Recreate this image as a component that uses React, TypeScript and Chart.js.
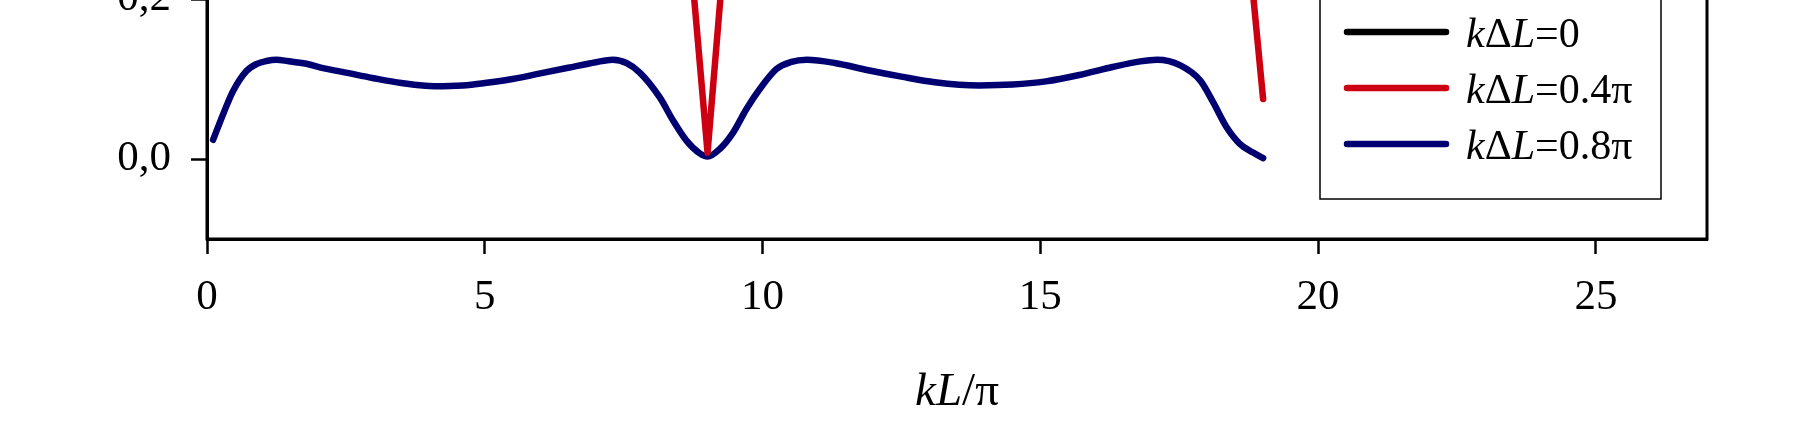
import React, { useEffect, useRef } from 'react';
import { Chart, registerables } from 'chart.js';

Chart.register(...registerables);

// ---- data ----
const blackX = [0.1, 0.5, 1, 2, 3, 4, 5, 6, 7, 8, 9, 10, 11, 12, 13, 14, 15, 16, 17, 18, 19];
const blackY = [0.62, 0.74, 0.82, 0.86, 0.84, 0.82, 0.83, 0.86, 0.85, 0.78, 0.66, 0.78, 0.85, 0.86, 0.83, 0.82, 0.84, 0.86, 0.84, 0.76, 0.64];

const redX = [0.1, 0.5, 1, 2, 3, 4, 5, 6, 7, 7.5, 8, 8.3, 8.5, 8.77, 9.01, 9.24, 9.45, 9.7, 10, 11, 12, 13, 14, 15, 16, 17, 17.5, 18, 18.3, 18.55, 18.84, 19.01];
const redY = [0.34, 0.42, 0.48, 0.52, 0.5, 0.48, 0.49, 0.52, 0.5, 0.46, 0.4, 0.34, 0.41, 0.2, 0.008, 0.2, 0.37, 0.43, 0.46, 0.52, 0.5, 0.48, 0.48, 0.5, 0.52, 0.5, 0.47, 0.44, 0.42, 0.4, 0.198, 0.075];

const blueX = [0.11, 0.29, 0.47, 0.71, 0.9, 1.07, 1.25, 1.45, 1.79, 2.03, 2.5, 3.0, 3.5, 4.1, 4.6, 5.0, 5.5, 6.0, 6.5, 7.0, 7.3, 7.55, 7.79, 8.15, 8.39, 8.63, 8.87, 9.01, 9.23, 9.47, 9.71, 9.95, 10.25, 10.5, 10.8, 11.3, 11.9, 12.5, 13.1, 13.9, 14.5, 15.1, 15.7, 16.3, 16.8, 17.1, 17.52, 17.88, 18.11, 18.35, 18.59, 18.83, 19.01];
const blueY = [0.024, 0.056, 0.085, 0.11, 0.119, 0.1225, 0.124, 0.1225, 0.119, 0.1145, 0.108, 0.101, 0.095, 0.091, 0.092, 0.095, 0.1, 0.107, 0.114, 0.121, 0.124, 0.12, 0.108, 0.077, 0.048, 0.023, 0.007, 0.003, 0.0125, 0.033, 0.0625, 0.0875, 0.1125, 0.121, 0.124, 0.12, 0.111, 0.103, 0.096, 0.092, 0.093, 0.097, 0.105, 0.115, 0.122, 0.124, 0.117, 0.098, 0.071, 0.04, 0.019, 0.008, 0.001];

const seriesLabels = ['0', '0.4\u03c0', '0.8\u03c0'];
const seriesColors = ['#000000', '#cc0011', '#000070'];
const xTicks = [0, 5, 10, 15, 20, 25];
const yTicks = [0, 0.2, 0.4, 0.6, 0.8, 1.0];

// ---- layout ----
const W = 1794;
const VIEW_H = 432;
const OFFSET = 701; // canvas rows hidden above the view
const CH = OFFSET + VIEW_H;
const FONT = "'Liberation Serif', 'Times New Roman', serif";

type Seg = [string, boolean];

function drawRich(ctx: CanvasRenderingContext2D, segs: Seg[], x: number, y: number, size: number, align: 'left' | 'center') {
  const fontOf = (it: boolean) => `${it ? 'italic ' : ''}${size}px ${FONT}`;
  let total = 0;
  const widths = segs.map(([t, it]) => {
    ctx.font = fontOf(it);
    const w = ctx.measureText(t).width;
    total += w;
    return w;
  });
  let cx = align === 'center' ? x - total / 2 : x;
  ctx.textBaseline = 'alphabetic';
  ctx.textAlign = 'left';
  ctx.fillStyle = '#000';
  segs.forEach(([t, it], i) => {
    ctx.font = fontOf(it);
    ctx.fillText(t, cx, y);
    cx += widths[i];
  });
}

const decor = {
  id: 'decor',
  afterDraw(chart: any) {
    const ctx: CanvasRenderingContext2D = chart.ctx;
    const a = chart.chartArea;
    ctx.save();
    ctx.strokeStyle = '#000';
    ctx.lineWidth = 3;
    ctx.strokeRect(a.left, a.top, a.right - a.left, a.bottom - a.top);

    // legend box
    const bx1 = 1320, bx2 = 1661, by1 = OFFSET - 23, by2 = OFFSET + 199;
    ctx.lineWidth = 1.5;
    ctx.strokeRect(bx1, by1, bx2 - bx1, by2 - by1);
    chart.data.datasets.forEach((ds: any, i: number) => {
      const y = OFFSET + 32 + i * 56;
      ctx.beginPath();
      ctx.strokeStyle = ds.borderColor;
      ctx.lineWidth = 6.5;
      ctx.lineCap = 'round';
      ctx.moveTo(1347, y);
      ctx.lineTo(1446, y);
      ctx.stroke();
      drawRich(ctx, [['k', true], ['\u0394', false], ['L', true], ['=' + seriesLabels[i], false]], 1466, y + 15, 42, 'left');
    });

    // x axis title
    drawRich(ctx, [['kL', true], ['/\u03c0', false]], (a.left + a.right) / 2, OFFSET + 405, 47, 'center');
    ctx.restore();
  },
};

export default function App() {
  const ref = useRef<HTMLCanvasElement | null>(null);
  useEffect(() => {
    if (!ref.current) return;
    const mk = (xs: number[], ys: number[]) => xs.map((x, i) => ({ x, y: ys[i] }));
    const common = { borderWidth: 6.5, pointRadius: 0, borderCapStyle: 'round', borderJoinStyle: 'round' };
    const chart = new Chart(ref.current, {
      type: 'line',
      data: {
        datasets: [
          { ...common, label: seriesLabels[0], data: mk(blackX, blackY), borderColor: seriesColors[0], cubicInterpolationMode: 'monotone' },
          { ...common, label: seriesLabels[1], data: mk(redX, redY), borderColor: seriesColors[1], tension: 0 },
          { ...common, label: seriesLabels[2], data: mk(blueX, blueY), borderColor: seriesColors[2], cubicInterpolationMode: 'monotone' },
        ],
      },
      options: {
        responsive: false,
        maintainAspectRatio: false,
        animation: false,
        devicePixelRatio: 1,
        layout: { padding: { left: 0, right: W - 1707, top: 60, bottom: 0 } },
        plugins: { legend: { display: false }, tooltip: { enabled: false }, title: { display: false } },
        events: [],
        scales: {
          x: {
            type: 'linear',
            min: 0,
            max: 27,
            afterBuildTicks: (s: any) => { s.ticks = xTicks.map((v) => ({ value: v })); },
            afterFit: (s: any) => { s.height = CH - (OFFSET + 239); },
            border: { display: true, color: '#000', width: 3 },
            grid: { drawOnChartArea: false, drawTicks: true, tickLength: 15, tickWidth: 2.5, color: '#000' },
            ticks: {
              color: '#000',
              padding: 18,
              maxRotation: 0,
              autoSkip: false,
              font: { family: FONT, size: 43 },
              callback: (v: any) => String(v),
            },
          },
          y: {
            type: 'linear',
            min: -0.1,
            max: 1.0,
            afterBuildTicks: (s: any) => { s.ticks = yTicks.map((v) => ({ value: v })); },
            afterFit: (s: any) => { s.width = 207; },
            border: { display: true, color: '#000', width: 3 },
            grid: { drawOnChartArea: false, drawTicks: true, tickLength: 16, tickWidth: 2.5, color: '#000' },
            ticks: {
              color: '#000',
              padding: 20,
              autoSkip: false,
              font: { family: FONT, size: 43 },
              callback: (v: any) => Number(v).toFixed(1).replace('.', ','),
            },
          },
        },
      },
      plugins: [decor],
    } as any);
    return () => chart.destroy();
  }, []);

  return (
    <div style={{ position: 'fixed', left: 0, top: 0, width: W, height: VIEW_H, overflow: 'hidden', background: '#fff' }}>
      <canvas ref={ref} width={W} height={CH} style={{ position: 'absolute', left: 0, top: -OFFSET, width: W, height: CH }} />
    </div>
  );
}
